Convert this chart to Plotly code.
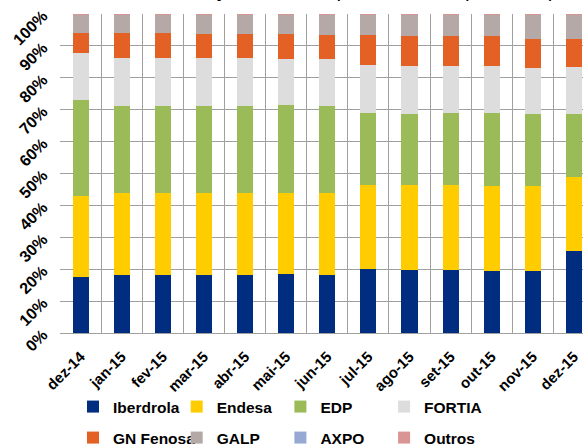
import plotly.graph_objects as go

months = ["dez-14", "jan-15", "fev-15", "mar-15", "abr-15", "mai-15", "jun-15",
          "jul-15", "ago-15", "set-15", "out-15", "nov-15", "dez-15"]

iberdrola = [17.6, 18.2, 18.2, 18.2, 18.2, 18.5, 18.2, 20.0, 19.8, 19.8, 19.3, 19.5, 25.6]
endesa    = [25.5, 25.6, 25.6, 25.6, 25.6, 25.4, 25.6, 26.5, 26.6, 26.6, 26.8, 26.7, 23.3]
edp       = [30.0, 27.4, 27.4, 27.4, 27.4, 27.5, 27.4, 22.5, 22.3, 22.5, 22.8, 22.4, 19.8]
fortia    = [14.7, 15.1, 15.1, 14.9, 14.9, 14.6, 14.8, 14.9, 14.9, 14.7, 14.7, 14.6, 14.6]
gn_fenosa = [6.3, 7.7, 7.7, 7.7, 7.7, 7.7, 7.5, 9.6, 9.6, 9.6, 9.6, 9.1, 9.0]
galp      = [5.6, 5.7, 5.7, 5.9, 5.9, 6.0, 6.2, 6.2, 6.5, 6.5, 6.5, 7.4, 7.4]
axpo      = [0.25] * 13
outros    = [0.05] * 13

series = [
    ("Iberdrola", iberdrola, "#002D7F"),
    ("Endesa", endesa, "#FFCC00"),
    ("EDP", edp, "#9BBB59"),
    ("FORTIA", fortia, "#DDDDDD"),
    ("GN Fenosa", gn_fenosa, "#E46126"),
    ("GALP", galp, "#B4A9A7"),
    ("AXPO", axpo, "#95A9D3"),
    ("Outros", outros, "#D99594"),
]

tick_vals = list(range(0, 101, 10))
tick_text = [f"{v}%" for v in tick_vals]

FONT = "Liberation Sans, Arial"

fig = go.Figure()
for i, (name, vals, col) in enumerate(series):
    fig.add_trace(go.Bar(x=months, y=vals, name=name, marker_color=col,
                         marker_line_width=0, width=0.39,
                         legend="legend" if i < 4 else "legend2"))

leg_common = dict(orientation="h", xanchor="left", yanchor="middle",
                  entrywidth=58.7, entrywidthmode="pixels",
                  font=dict(family=FONT, size=15.5, weight="bold"),
                  traceorder="normal", tracegroupgap=0,
                  bgcolor="rgba(0,0,0,0)")

fig.update_layout(
    width=583, height=446,
    barmode="stack",
    hovermode=False,
    plot_bgcolor="white", paper_bgcolor="white",
    margin=dict(l=60, r=0, t=14, b=113, autoexpand=False),
    font=dict(family=FONT, color="black", size=15, weight="bold"),
    showlegend=True,
    legend=dict(x=(73 - 60) / 523, y=-(407 - 333) / 319, **leg_common),
    legend2=dict(x=(73 - 60) / 523, y=-(438 - 333) / 319, **leg_common),
)
fig.update_xaxes(
    type="category", range=[-0.5, 12.22], tickson="boundaries", automargin=False,
    showgrid=True, gridcolor="#A0A0A0", gridwidth=1.3,
    showline=True, linecolor="#A0A0A0", linewidth=1.3,
    ticks="", tickangle=-45, ticklabelstandoff=8,
    tickfont=dict(family=FONT, size=15, weight="bold"),
)
fig.update_yaxes(
    range=[0, 100], tickvals=tick_vals, ticktext=tick_text, automargin=False,
    showgrid=True, gridcolor="#A0A0A0", gridwidth=1.3,
    showline=False, zeroline=False,
    ticks="", tickangle=-45, ticklabelstandoff=16,
    tickfont=dict(family=FONT, size=16, weight="bold"),
)
fig.add_annotation(
    text="Quotas de mercado por comercializador (em consumo)",
    xref="paper", yref="paper", x=(210 - 60) / 523, y=1 + 14 / 319,
    xanchor="left", yanchor="bottom", yshift=-3, showarrow=False,
    font=dict(family=FONT, size=13, weight="bold", color="black"),
)
fig.write_html("out.html", config={"displayModeBar": False},
               post_script="document.body.style.margin='0px';")
